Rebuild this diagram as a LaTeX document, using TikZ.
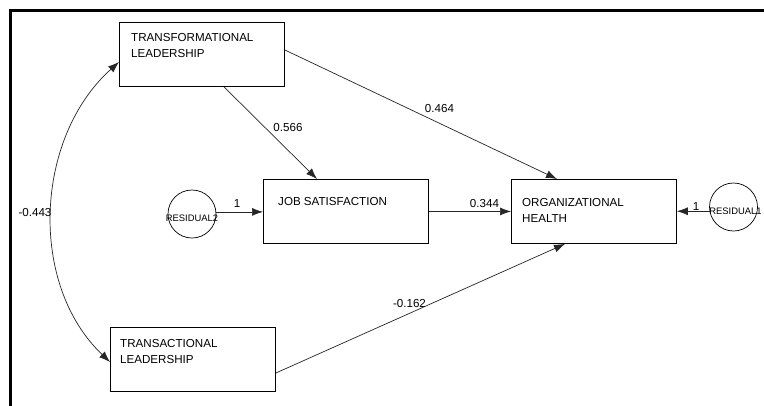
\documentclass[tikz,border=0pt]{standalone}
\usepackage{fontspec}
\setmainfont{Liberation Sans}
\usetikzlibrary{arrows.meta,calc}
\begin{document}
\begin{tikzpicture}[x=1pt,y=-1pt,
  box/.style={draw=black,line width=0.9pt,minimum width=165pt,minimum height=64pt,anchor=north west,inner sep=0pt},
  res/.style={draw=black,line width=0.7pt,circle,minimum size=48pt,inner sep=0pt},
  boxtext/.style={anchor=north west,inner sep=0pt,align=left,font=\fontsize{11.6}{16.3}\selectfont},
  restext/.style={anchor=base,inner sep=0pt,font=\fontsize{9.4}{11}\selectfont},
  lab/.style={anchor=base,inner sep=0pt,font=\fontsize{11.6}{13}\selectfont},
  arr/.style={line width=0.7pt,draw=black!85,-{Latex[length=11pt,width=8pt]}},
  dbl/.style={line width=0.7pt,draw=black!85,{Latex[length=11pt,width=8pt]}-{Latex[length=11pt,width=8pt]}}
]
\useasboundingbox (0,0) rectangle (764,405);
\fill[white] (0,0) rectangle (764,405);
% frame
\draw[line width=3.3pt] (10.3,410) -- (10.3,10.5) -- (770,10.5);

% boxes
\node[box] (tf) at (119,22) {};
\node[box] (job) at (263,179) {};
\node[box] (org) at (511,179) {};
\node[box] (ta) at (110,327) {};

\node[boxtext] (tft) at (131,33) {TRANSFORMATIONAL\\LEADERSHIP};
\node[boxtext] (jobt) at (278,197) {JOB SATISFACTION};
\node[boxtext] (orgt) at (522,198) {ORGANIZATIONAL\\HEALTH};
\node[boxtext] (tat) at (120,339) {TRANSACTIONAL\\LEADERSHIP};

% residuals
\node[res] (r2) at (192,214) {};
\node[restext] (r2t) at (192,221) {RESIDUAL2};
\node[res] (r1) at (733.5,207) {};
\node[restext] (r1t) at (735.5,214.5) {RESIDUAL1};

% connectors
\draw[arr] (r2.5) -- (job.west |- r2.5);
\draw[arr] (job.east) -- (org.west);
\draw[arr] (r1.190) -- (org.east |- r1.190);
\draw[arr] ([xshift=105pt]tf.south west) -- ([xshift=54pt]job.north west);
\draw[arr] ([yshift=-28pt]tf.north east) -- ([xshift=46pt]org.north west);
\draw[arr] ([yshift=-46pt]ta.north east) -- ([xshift=54pt]org.south west);
\draw[dbl] ([yshift=-40pt]tf.north west) .. controls (34.7,137.4) and (28,284) .. ([yshift=-35pt]ta.north west);

% labels
\node[lab] (l1) at (237,207) {1};
\node[lab] (l2) at (484.5,207) {0.344};
\node[lab] (l3) at (696,210) {1};
\node[lab] (l4) at (288,131) {0.566};
\node[lab] (l5) at (439.5,112) {0.464};
\node[lab] (l6) at (409.5,307) {-0.162};
\node[lab] (l7) at (35,216) {-0.443};
\end{tikzpicture}
\end{document}
